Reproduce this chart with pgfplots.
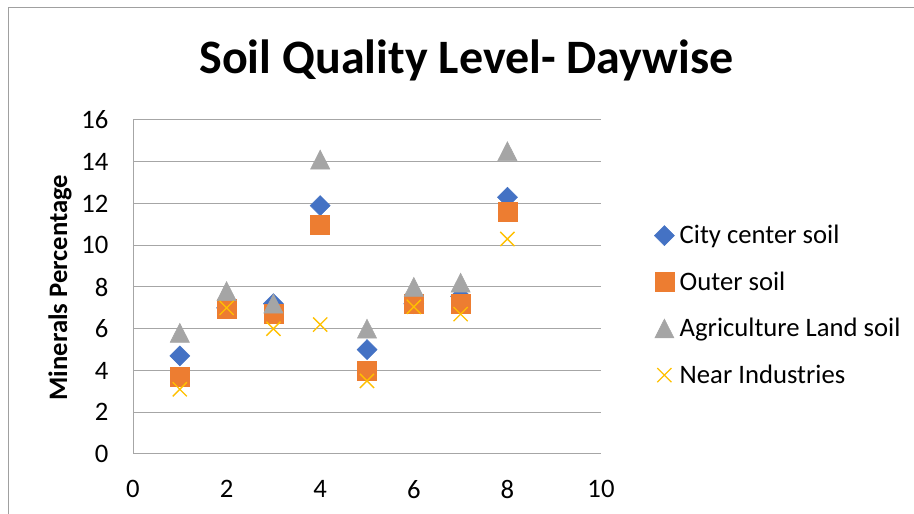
\documentclass[border=0pt]{standalone}
\usepackage{pgfplots}
\pgfplotsset{compat=1.18}
\usepackage{fontspec}
\setmainfont{Carlito}
\definecolor{cblue}{HTML}{4472C4}
\definecolor{corange}{HTML}{ED7D31}
\definecolor{cgray}{HTML}{A5A5A5}
\definecolor{cgold}{HTML}{FFC000}
\definecolor{gridgray}{HTML}{A6A6A6}
\definecolor{bordergray}{HTML}{A0A0A0}
\begin{document}
\begin{tikzpicture}[x=0.75pt,y=0.75pt]
\useasboundingbox (0,0) rectangle (914,514);
\draw[bordergray, line width=0.75pt] (8.5,0) -- (8.5,506.5) -- (914,506.5);
\node[font=\fontsize{36}{42}\selectfont\bfseries] at (466.5,454) {Soil Quality Level- Daywise};
\node[font=\fontsize{20}{24}\selectfont\bfseries, rotate=90] at (60,226.5) {Minerals Percentage};
\begin{axis}[
  at={(99.75pt,45pt)}, anchor=south west,
  width=351pt, height=250.5pt, scale only axis,
  xmin=0, xmax=10, ymin=0, ymax=16,
  xtick={0,2,...,10}, ytick={0,2,...,16},
  axis lines=left,
  axis line style={gridgray, line width=0.75pt, -},
  ymajorgrids,
  grid style={gridgray, line width=0.75pt},
  major tick length=0pt,
  /pgf/number format/assume math mode=true,
  ticklabel style={font=\fontsize{20}{24}\selectfont, text=black},
  yticklabel style={xshift=-15pt},
  xticklabel style={yshift=-16pt},
  clip=false,
  legend style={at={(1.105,0.445)}, anchor=west, draw=none, fill=none,
    font=\fontsize{20}{24}\selectfont, row sep=15.5pt, column sep=2pt,
    cells={anchor=west}},
  legend cell align=left,
]
\addplot[only marks, mark=diamond*, mark size=7.5pt, color=cblue, mark options={draw=cblue, fill=cblue, xscale=1.333}]
  coordinates {(1,4.7) (2,7.0) (3,7.2) (4,11.9) (5,5.0) (6,7.2) (7,7.55) (8,12.3)};
\addlegendentry{City center soil}
\addplot[only marks, mark=square*, mark size=7.1pt, color=corange, mark options={draw=corange, fill=corange}]
  coordinates {(1,3.7) (2,6.95) (3,6.7) (4,11.0) (5,4.0) (6,7.2) (7,7.2) (8,11.6)};
\addlegendentry{Outer soil}
\addplot[only marks, mark=triangle*, mark size=8.3pt, color=cgray, mark options={draw=cgray, fill=cgray, yscale=1.14, yshift=-2pt}]
  coordinates {(1,5.8) (2,7.8) (3,7.2) (4,14.1) (5,6.0) (6,8.0) (7,8.2) (8,14.5)};
\addlegendentry{Agriculture Land soil}
\addplot[only marks, mark=x, mark size=7.5pt, color=cgold, mark options={draw=cgold, line width=1pt}]
  coordinates {(1,3.1) (2,7.0) (3,6.0) (4,6.2) (5,3.5) (6,7.05) (7,6.7) (8,10.3)};
\addlegendentry{Near Industries}
\end{axis}
\end{tikzpicture}
\end{document}
